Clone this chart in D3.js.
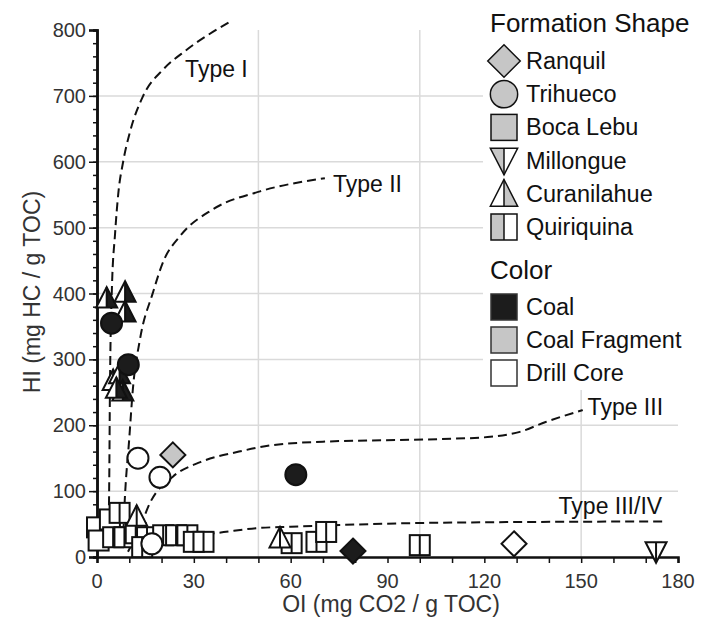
<!DOCTYPE html>
<html>
<head>
<meta charset="utf-8">
<script src="https://cdn.jsdelivr.net/npm/d3@7"></script>
<style>
  body { margin: 0; background: #fff; }
  text { font-family: "Liberation Sans", Arial, sans-serif; }
</style>
</head>
<body>
<div id="chart"></div>
<script>
// ---- data ----
var formations = ["Ranquil", "Trihueco", "Boca Lebu", "Millongue", "Curanilahue", "Quiriquina"];
var colorNames = ["Coal", "Coal Fragment", "Drill Core"];
var colorFills = {"Coal": "#1c1c1c", "Coal Fragment": "#c6c6c6", "Drill Core": "#ffffff"};

// [formation, color, OI, HI]
var samples = [
  ["Curanilahue", "Coal", 3, 393],
  ["Curanilahue", "Coal", 8.7, 402],
  ["Curanilahue", "Coal", 8.7, 372],
  ["Curanilahue", "Coal", 5, 268],
  ["Curanilahue", "Coal", 7, 278],
  ["Curanilahue", "Coal", 8, 252],
  ["Curanilahue", "Coal", 6, 256],
  ["Trihueco", "Coal", 4.5, 355],
  ["Trihueco", "Coal", 9.7, 292],
  ["Trihueco", "Coal", 61.6, 125],
  ["Trihueco", "Drill Core", 12.7, 150],
  ["Trihueco", "Drill Core", 19.5, 121],
  ["Ranquil", "Coal Fragment", 23.5, 155],
  ["Ranquil", "Coal", 79.3, 9],
  ["Ranquil", "Drill Core", 129.2, 20],
  ["Millongue", "Drill Core", 173.2, 8],
  ["Boca Lebu", "Drill Core", 0, 45],
  ["Boca Lebu", "Drill Core", 0.5, 25],
  ["Boca Lebu", "Drill Core", 4, 57],
  ["Quiriquina", "Drill Core", 7, 67],
  ["Quiriquina", "Drill Core", 5, 30],
  ["Quiriquina", "Drill Core", 8.5, 30],
  ["Quiriquina", "Drill Core", 12, 36],
  ["Quiriquina", "Drill Core", 15.5, 30],
  ["Quiriquina", "Drill Core", 14, 15],
  ["Quiriquina", "Drill Core", 20.5, 33],
  ["Quiriquina", "Drill Core", 24.5, 33],
  ["Quiriquina", "Drill Core", 28, 33],
  ["Quiriquina", "Drill Core", 30, 23],
  ["Quiriquina", "Drill Core", 33, 23],
  ["Quiriquina", "Drill Core", 60.3, 21],
  ["Quiriquina", "Drill Core", 68, 23],
  ["Quiriquina", "Drill Core", 71, 38],
  ["Quiriquina", "Drill Core", 100, 18],
  ["Trihueco", "Drill Core", 17, 20],
  ["Curanilahue", "Drill Core", 12.3, 62],
  ["Curanilahue", "Drill Core", 56.7, 29]
];

// kerogen type reference curves [OI, HI]
var typeI = [[3.5,15],[3.8,120],[4,250],[4.6,405],[5.6,491],[6.6,552],[8.1,600],[10.2,645],[14.3,700],[20.5,740],[27.8,770],[41,812]];
var typeII = [[8,15],[8.5,76],[10,180],[11.1,254],[13.3,330],[17.3,401],[20.4,447],[25.7,487],[36,528],[50.5,555],[70.6,575]];
var typeIII = [[9.6,8],[13.3,45],[16.4,82],[23.5,122],[32,144],[44,160],[54.6,170],[70,175],[106,179],[121,182],[131,190],[139,205],[150.5,223]];
var typeIIIIV = [[12,28],[24,32],[36,36],[50,44],[60,46],[106,52],[176,54]];
var curveNames = ["Type I", "Type II", "Type III", "Type III/IV"];
var curveLabelAt = [[27.3,728],[73.1,554],[152,215],[143,66]];

var xTicks = [0, 30, 60, 90, 120, 150, 180];
var yTicks = [0, 100, 200, 300, 400, 500, 600, 700, 800];
var xGrid = [50, 100, 150];
var yGrid = [100, 200, 300, 400, 500, 600, 700];

// ---- layout ----
var W = 702, H = 620;
var x = d3.scaleLinear().domain([0, 180]).range([97, 678]);
var y = d3.scaleLinear().domain([0, 800]).range([557, 30]);

var svg = d3.select("#chart").append("svg")
    .attr("width", W)
    .attr("height", H);

// grid
svg.append("g").selectAll("line")
    .data(yGrid)
    .enter().append("line")
    .attr("x1", x(0)).attr("x2", x(180))
    .attr("y1", d => y(d)).attr("y2", d => y(d))
    .attr("stroke", "#dadada").attr("stroke-width", 1.5);
svg.append("g").selectAll("line")
    .data(xGrid)
    .enter().append("line")
    .attr("x1", d => x(d)).attr("x2", d => x(d))
    .attr("y1", y(0)).attr("y2", y(800))
    .attr("stroke", "#dadada").attr("stroke-width", 1.5);

// legend background covers grid
svg.append("rect")
    .attr("x", 483).attr("y", 0)
    .attr("width", W - 483).attr("height", 390)
    .attr("fill", "#fff");

// axes
var xAxis = svg.append("g")
    .attr("transform", "translate(0," + y(0) + ")")
    .call(d3.axisBottom(x).tickValues(d3.range(0, 181, 10)).tickSize(6).tickFormat(""));
var yAxisMinor = svg.append("g")
    .attr("transform", "translate(" + x(0) + ",0)")
    .call(d3.axisLeft(y).tickValues(d3.range(0, 801, 20)).tickSize(4).tickFormat(""));
var yAxis = svg.append("g")
    .attr("transform", "translate(" + x(0) + ",0)")
    .call(d3.axisLeft(y).tickValues(yTicks).tickSize(8).tickFormat(""));
[xAxis, yAxisMinor, yAxis].forEach(function (g) {
    g.select(".domain").attr("stroke", "#111").attr("stroke-width", 2.5);
    g.selectAll(".tick line").attr("stroke", "#111").attr("stroke-width", 1.5);
});

svg.append("g").selectAll("text")
    .data(xTicks)
    .enter().append("text")
    .attr("x", d => x(d)).attr("y", 588)
    .attr("text-anchor", "middle")
    .attr("font-size", 20).attr("fill", "#333")
    .text(d => d);
svg.append("g").selectAll("text")
    .data(yTicks)
    .enter().append("text")
    .attr("x", 86).attr("y", d => y(d) + 7)
    .attr("text-anchor", "end")
    .attr("font-size", 20).attr("fill", "#333")
    .text(d => d);

svg.append("text")
    .attr("x", 391).attr("y", 612)
    .attr("text-anchor", "middle")
    .attr("font-size", 23).attr("fill", "#333")
    .text("OI (mg CO2 / g TOC)");
svg.append("text")
    .attr("transform", "translate(40,292) rotate(-90)")
    .attr("text-anchor", "middle")
    .attr("font-size", 23).attr("fill", "#333")
    .text("HI (mg HC / g TOC)");

// curves
var line = d3.line()
    .x(d => x(d[0]))
    .y(d => y(d[1]))
    .curve(d3.curveMonotoneX);

svg.append("g").selectAll("path")
    .data([typeI, typeII, typeIII, typeIIIIV])
    .enter().append("path")
    .attr("d", line)
    .attr("fill", "none")
    .attr("stroke", "#111")
    .attr("stroke-width", 2)
    .attr("stroke-dasharray", "9,5");

svg.append("g").selectAll("text")
    .data(curveNames)
    .enter().append("text")
    .attr("x", (d, i) => x(curveLabelAt[i][0]))
    .attr("y", (d, i) => y(curveLabelAt[i][1]))
    .attr("font-size", 23).attr("fill", "#111")
    .text(d => d);

// symbol drawing: s = half size
function drawSymbol(g, formation, fill, s, sw) {
    var stroke = "#111";
    if (formation == "Ranquil") {
        var r = s * 1.25;
        g.append("path").attr("d", "M0," + (-r) + "L" + r + ",0L0," + r + "L" + (-r) + ",0Z")
            .attr("fill", fill).attr("stroke", stroke).attr("stroke-width", sw);
    } else if (formation == "Trihueco") {
        g.append("circle").attr("r", s * 1.05)
            .attr("fill", fill).attr("stroke", stroke).attr("stroke-width", sw);
    } else if (formation == "Boca Lebu") {
        g.append("rect").attr("x", -s).attr("y", -s).attr("width", 2 * s).attr("height", 2 * s)
            .attr("fill", fill).attr("stroke", stroke).attr("stroke-width", sw);
    } else if (formation == "Quiriquina") {
        g.append("rect").attr("x", -s).attr("y", -s).attr("width", s).attr("height", 2 * s)
            .attr("fill", fill);
        g.append("rect").attr("x", 0).attr("y", -s).attr("width", s).attr("height", 2 * s)
            .attr("fill", "#fff");
        g.append("rect").attr("x", -s).attr("y", -s).attr("width", 2 * s).attr("height", 2 * s)
            .attr("fill", "none").attr("stroke", stroke).attr("stroke-width", sw);
        g.append("line").attr("x1", 0).attr("x2", 0).attr("y1", -s).attr("y2", s)
            .attr("stroke", stroke).attr("stroke-width", sw);
    } else if (formation == "Curanilahue" || formation == "Millongue") {
        var up = formation == "Curanilahue" ? 1 : -1;
        var tip = -s * 1.1 * up, base = s * 0.95 * up, hw = s * 1.05;
        g.append("path").attr("d", "M0," + tip + "L0," + base + "L" + (-hw) + "," + base + "Z")
            .attr("fill", up == 1 ? "#fff" : fill);
        g.append("path").attr("d", "M0," + tip + "L" + hw + "," + base + "L0," + base + "Z")
            .attr("fill", up == 1 ? fill : "#fff");
        g.append("path").attr("d", "M0," + tip + "L" + hw + "," + base + "L" + (-hw) + "," + base + "Z")
            .attr("fill", "none").attr("stroke", stroke).attr("stroke-width", sw)
            .attr("stroke-linejoin", "miter");
        g.append("line").attr("x1", 0).attr("x2", 0).attr("y1", tip).attr("y2", base)
            .attr("stroke", stroke).attr("stroke-width", sw);
    }
}

// points
var pts = svg.append("g");
samples.forEach(function (d) {
    var g = pts.append("g").attr("transform", "translate(" + x(d[2]) + "," + y(d[3]) + ")");
    drawSymbol(g, d[0], colorFills[d[1]], 10, 2);
});

// legend
var legend = svg.append("g");
legend.append("text")
    .attr("x", 490).attr("y", 32)
    .attr("font-size", 26).attr("fill", "#111")
    .text("Formation Shape");
formations.forEach(function (f, i) {
    var cy = 61 + i * 33.2;
    var g = legend.append("g").attr("transform", "translate(504," + cy + ")");
    drawSymbol(g, f, colorFills["Coal Fragment"], 13, 1.5);
    legend.append("text")
        .attr("x", 526).attr("y", cy + 8)
        .attr("font-size", 23.5).attr("fill", "#111")
        .text(f);
});
legend.append("text")
    .attr("x", 490).attr("y", 279)
    .attr("font-size", 26).attr("fill", "#111")
    .text("Color");
colorNames.forEach(function (c, i) {
    var cy = 307 + i * 33;
    legend.append("rect")
        .attr("x", 491).attr("y", cy - 13)
        .attr("width", 26).attr("height", 26)
        .attr("fill", colorFills[c]).attr("stroke", "#333").attr("stroke-width", 1.5);
    legend.append("text")
        .attr("x", 526).attr("y", cy + 8)
        .attr("font-size", 23.5).attr("fill", "#111")
        .text(c);
});
</script>
</body>
</html>
